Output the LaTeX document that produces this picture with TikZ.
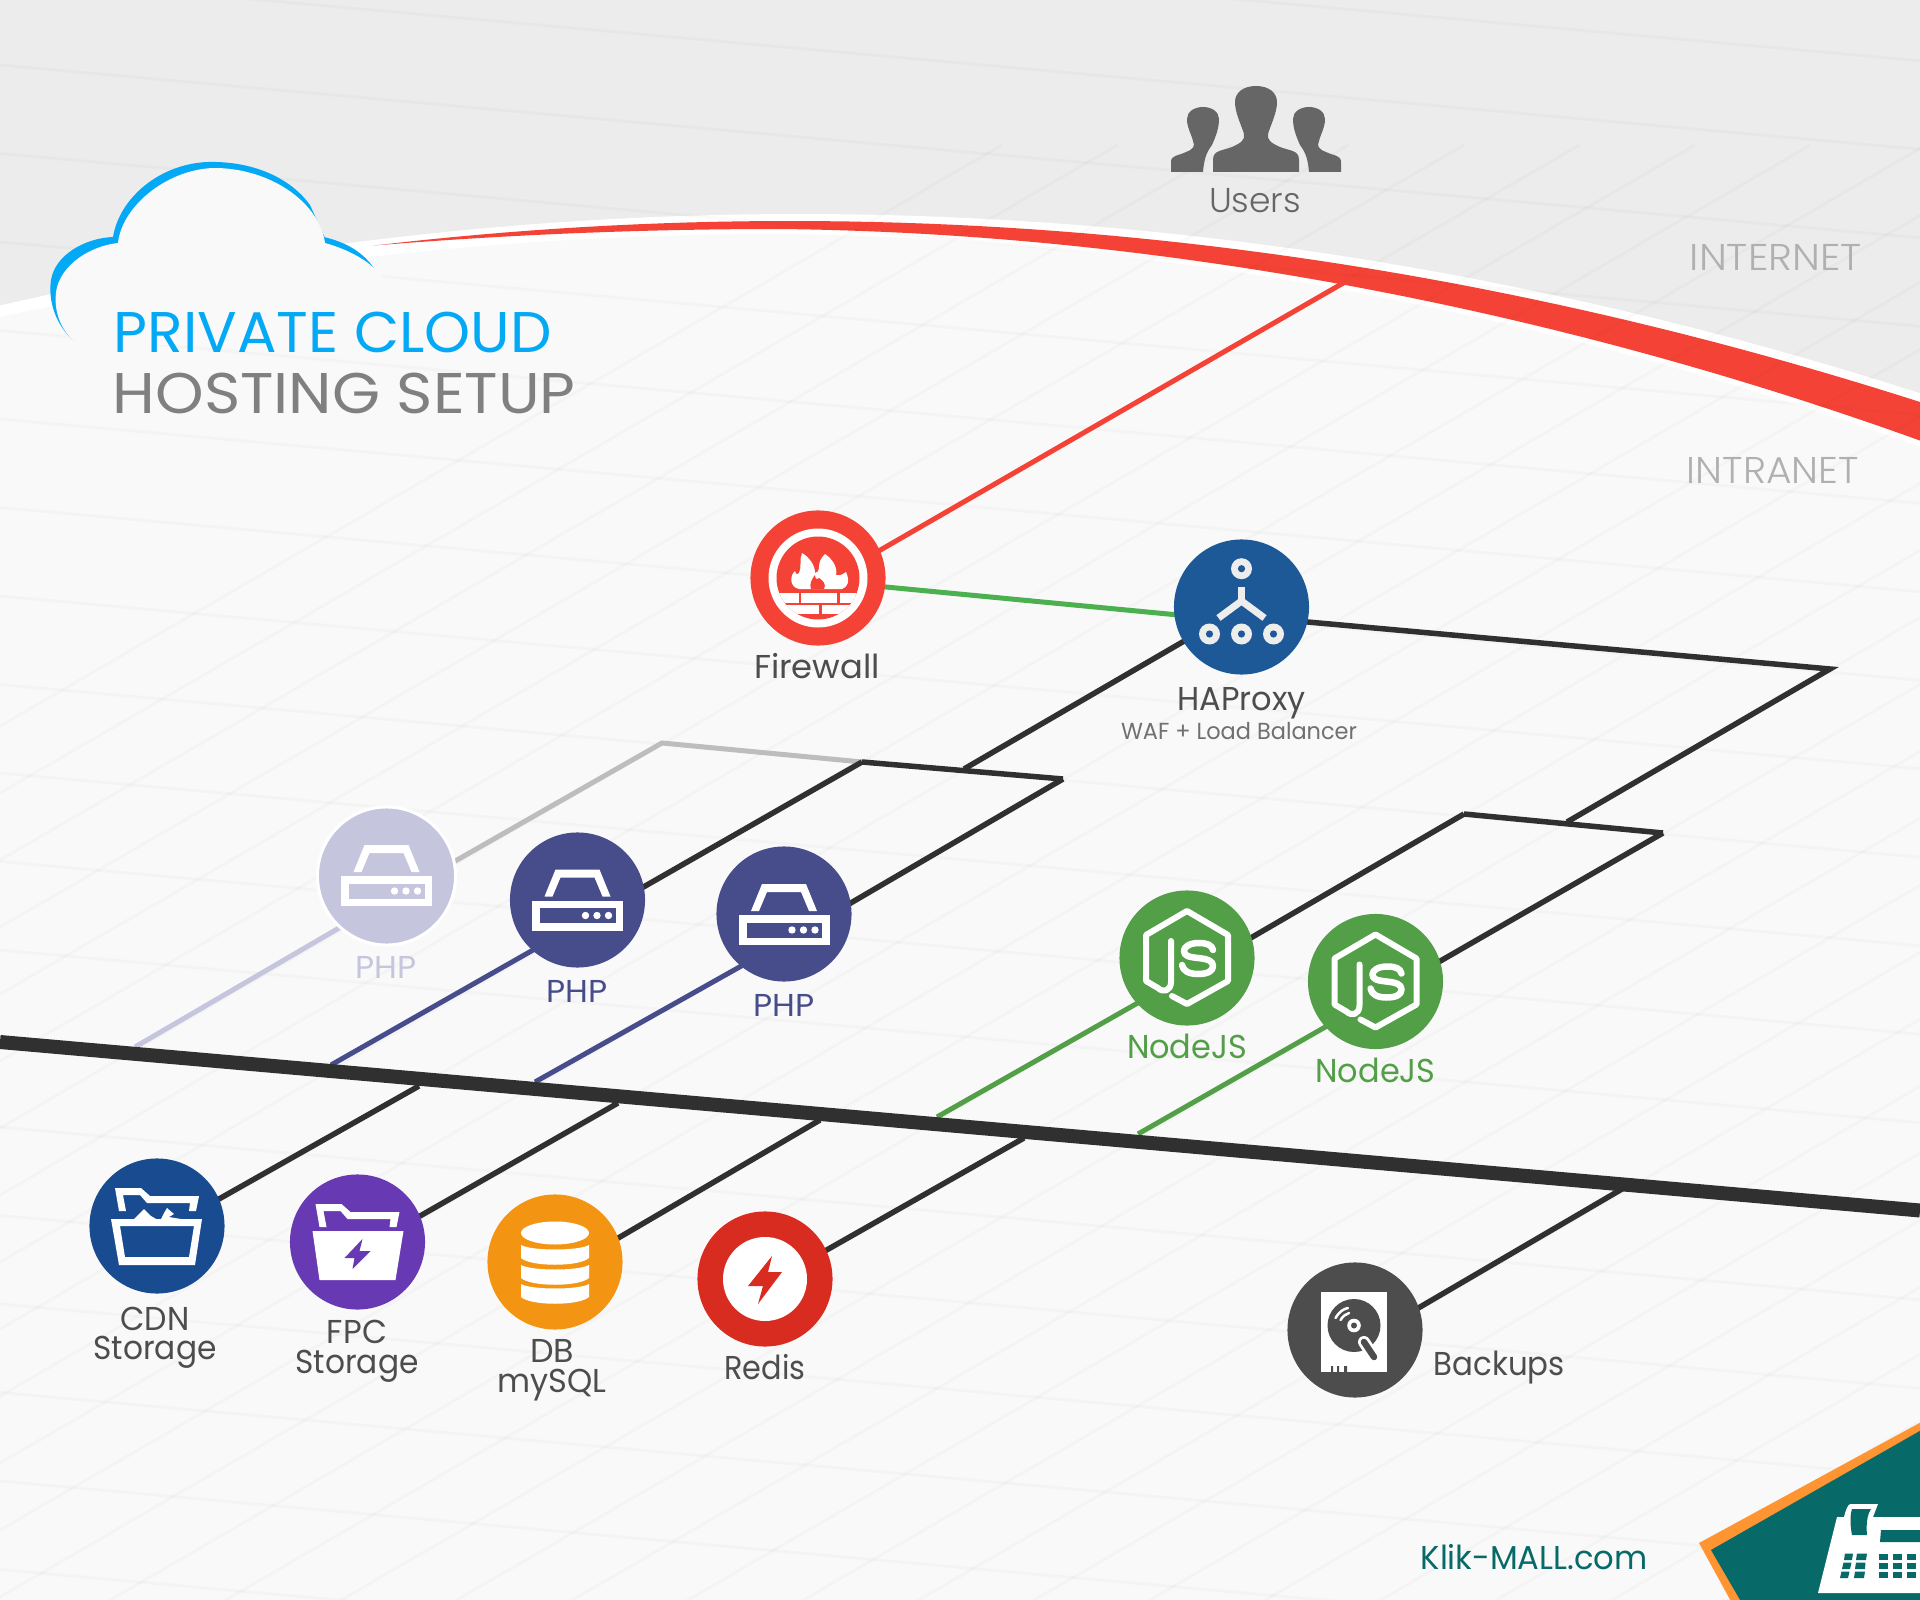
\documentclass[tikz,border=0pt]{standalone}
\usepackage{fontspec}
\usepackage{graphicx}
\setmainfont{Poppins}
\newfontfamily\lite{Poppins Light}
\newlength\pxu \setlength{\pxu}{0.01cm}
\newcommand\fz[1]{\fontsize{#1}{#1}\selectfont}
\newcommand\fw[2]{\resizebox{#1\pxu}{\height}{#2}}
\definecolor{bgtop}{HTML}{ECECEC}
\definecolor{bglow}{HTML}{F9F9F9}
\definecolor{cred}{HTML}{F44336}
\definecolor{cblue}{HTML}{03A9F4}
\definecolor{cgreen}{HTML}{4CAF50}
\definecolor{njs}{HTML}{539F47}
\definecolor{wireblk}{HTML}{303030}
\definecolor{phpc}{HTML}{474C8A}
\definecolor{phpf}{HTML}{C5C6DE}
\definecolor{hap}{HTML}{1E5997}
\definecolor{cdn}{HTML}{194B90}
\definecolor{fpc}{HTML}{673AB3}
\definecolor{dbc}{HTML}{F39513}
\definecolor{rds}{HTML}{D92C20}
\definecolor{bkp}{HTML}{4D4D4D}
\definecolor{teal}{HTML}{076A68}
\definecolor{orng}{HTML}{FF9433}
\definecolor{lbltx}{HTML}{4D4D4D}
\definecolor{usr}{HTML}{666666}
\tikzset{
  hub/.style={circle,inner sep=0pt,minimum size=1.35cm,draw=none},
  lbl/.style={inner sep=0pt,anchor=base},
  lblw/.style={inner sep=0pt,anchor=base west},
  wire/.style={line width=5.5\pxu,wireblk},
  thinwire/.style={line width=5\pxu},
  gridln/.style={line width=3\pxu,black,opacity=0.02},
}
\newcommand\srv[3]{% x y colour
  \begin{scope}[shift={(#1,#2)}]
    \fill[white,even odd rule] (-33,-3) -- (-22,-30) -- (22,-30) -- (33,-3) -- (25,-3) -- (17,-22) -- (-17,-22) -- (-25,-3) -- cycle;
    \fill[white] (-45.5,1) rectangle (45.5,31);
    \fill[#3] (-37.5,8.5) rectangle (38,23.5);
    \foreach \d in {8,19.5,31}{\fill[white] (\d,16) circle[radius=3.7];}
  \end{scope}}
\newcommand\jsi[2]{%
  \begin{scope}[shift={(#1,#2)},white,line width=6\pxu,line join=round,line cap=round]
    \draw (-16,-17) -- (-16,24) .. controls (-16,33) and (-24,35) .. (-29,30) -- (-41,23) -- (-41,-23) -- (0,-47) -- (41,-23) -- (41,23) -- (0,46) -- (-15,38);
    \draw[line width=6.5\pxu] (26,-8) .. controls (25,-13) and (20,-15) .. (12,-15) .. controls (2,-15) and (-3,-11) .. (-3,-7) .. controls (-3,-2) and (2,-1) .. (11,0) .. controls (21,1) and (26,3) .. (26,8) .. controls (26,13) and (21,16) .. (11,16) .. controls (2,16) and (-4,13) .. (-5,7);
  \end{scope}}
\newcommand\foldertab{%
  \fill[white] (-42,-38) -- (-16,-38) -- (-7,-30) -- (42,-30) -- (39,-15) -- (32,-15) -- (33,-23) -- (-10,-23) -- (-17,-31) -- (-34,-31) -- (-31,-15) -- (-38,-15) -- cycle;}
\begin{document}
\begin{tikzpicture}[x=0.01cm,y=-0.01cm]
\useasboundingbox (0,0) rectangle (1920,1600);
\clip (0,0) rectangle (1920,1600);
% backgrounds
\fill[bgtop] (0,0) rectangle (1920,1600);
\fill[white] plot[domain=-5:1925,samples=60] (\x,{214+((\x-800)/100)^2/0.7}) -- (1925,1605) -- (-5,1605) -- cycle;
\fill[bglow] plot[domain=-5:1925,samples=80] (\x,{234+((\x-780)/100)^2/(\x<780 ? 0.733 : 0.6101)+(\x<780 ? 0 : 4*sin(180*((\x-780)/1145)))}) -- (1925,1605) -- (-5,1605) -- cycle;
\fill[cred] plot[domain=373:1925,samples=60] (\x,{221+((\x-790)/100)^2/0.7055}) -- plot[domain=1925:373,samples=80] (\x,{229+((\x-780)/100)^2/(\x<780 ? 1 : 0.6145)+(\x<780 ? 0 : 4*sin(180*((\x-780)/1145)))}) -- cycle;
% grid
\foreach \k in {-2,...,17}{\draw[gridln] (-10,{65+88.5*\k-0.9}) -- (1930,{65+88.5*\k+173.7});}
\foreach \k in {0,...,31}{\draw[gridln] ({1002+115.5*\k},145) -- ({1002+115.5*\k-3000},1885);}
% cloud
\fill[cblue] (75,342) .. controls (55,325) and (48,300) .. (51,280) .. controls (55,255) and (85,238) .. (113,237) .. controls (120,195) and (165,160) .. (216,162) .. controls (258,163) and (292,180) .. (310,205) -- (325,238) -- (324,237) .. controls (348,243) and (362,252) .. (374,268) -- (340,300) -- cycle;
\fill[bglow] (78,345) .. controls (60,330) and (54,312) .. (56,292) .. controls (60,265) and (90,246) .. (118,243) .. controls (122,205) and (170,167) .. (218,168) .. controls (275,170) and (320,205) .. (325,243) .. controls (350,250) and (372,262) .. (385,280) -- (385,345) -- cycle;
% junction coordinates
\coordinate (uplink) at (1345,282);
\coordinate (fwin) at (818,586);
\coordinate (fwg) at (818,580.5);
\coordinate (hag) at (1241,621);
\coordinate (hpl) at (1241,608);
\coordinate (hpr) at (1241,616);
\coordinate (jR) at (1830,669);
\coordinate (jRm) at (1567,822);
\coordinate (jN1) at (1464,814);
\coordinate (jN2) at (1663,833);
\coordinate (jPm) at (964,769);
\coordinate (jP1) at (662,743);
\coordinate (jP2) at (862,762);
\coordinate (jP3) at (1063,779);
\coordinate (cP1) at (387,900);
\coordinate (cP2) at (577,925);
\coordinate (cP3) at (784,942);
\coordinate (cN1) at (1187,975);
\coordinate (cN2) at (1376,998);
\coordinate (bP1) at (135,1047);
\coordinate (bP2) at (331,1065);
\coordinate (bP3) at (535,1082);
\coordinate (bN1) at (937,1117);
\coordinate (bN2) at (1138,1134);
\coordinate (bC) at (419,1086);
\coordinate (bF) at (618,1103);
\coordinate (bD) at (820,1120);
\coordinate (bR) at (1024,1138);
\coordinate (bB) at (1622,1189);
\coordinate (cC) at (157,1234);
\coordinate (cF) at (357,1252);
\coordinate (cD) at (555,1275);
\coordinate (cR) at (765,1285);
\coordinate (cB) at (1355,1345);
\coordinate (busL) at (0,1042);
\coordinate (busR) at (1920,1210.5);
% connectors
\draw[thinwire,cred] (fwin) -- (uplink);
\draw[thinwire,cgreen] (fwg) -- (hag);
\draw[wire] (hpr) -- (jR) -- (jRm);
\draw[wire] (jN1) -- (jN2);
\draw[wire] (hpl) -- (jPm);
\draw[wire] (cN1) -- (jN1);
\draw[wire] (cN2) -- (jN2);
\draw[line width=5\pxu,color={rgb,255:red,189;green,189;blue,189}] (cP1) -- (jP1) -- (jP2);
\draw[wire] (jP2) -- (jP3);
\draw[wire] (cP2) -- (jP2);
\draw[wire] (cP3) -- (jP3);
\draw[thinwire,phpf] (cP1) -- (bP1);
\draw[thinwire,phpc] (cP2) -- (bP2);
\draw[thinwire,phpc] (cP3) -- (bP3);
\draw[thinwire,njs] (cN1) -- (bN1);
\draw[thinwire,njs] (cN2) -- (bN2);
\draw[wire] (cC) -- (bC);
\draw[wire] (cF) -- (bF);
\draw[wire] (cD) -- (bD);
\draw[wire] (cR) -- (bR);
\draw[wire] (cB) -- (bB);
\draw[line width=14\pxu,wireblk] (busL) -- (busR);
% hub nodes
\node[hub,fill=cred] (fw) at (818,578) {};
\node[hub,fill=hap] (ha) at (1241.5,607) {};
\node[hub,fill=phpf,draw=white,line width=3\pxu,minimum size=1.38cm] (php1) at (386.5,876) {};
\node[hub,fill=phpc] (php2) at (577.5,900) {};
\node[hub,fill=phpc] (php3) at (784,914) {};
\node[hub,fill=njs] (nj1) at (1187,958) {};
\node[hub,fill=njs] (nj2) at (1375.5,981.5) {};
\node[hub,fill=cdn] (cdnn) at (157,1226) {};
\node[hub,fill=fpc] (fpcn) at (357.5,1242) {};
\node[hub,fill=dbc] (dbn) at (555,1262) {};
\node[hub,fill=rds] (rdn) at (765,1279) {};
\node[hub,fill=bkp] (bkn) at (1355,1330) {};
% firewall icon
\begin{scope}[shift={(818,578)}]
  \fill[white] (0,0) circle[radius=49.5];
  \fill[cred] (0,0) circle[radius=41.5];
  \fill[white] (-19,11) .. controls (-29,9) and (-28,-3) .. (-23,-7) .. controls (-22,-3) and (-20,-3) .. (-19,-5) .. controls (-16,-10) and (-19,-18) .. (-16,-25) .. controls (-9,-21) and (-3,-13) .. (-3,-5) .. controls (-1,-5) and (1,-7) .. (1,-11) .. controls (1,-16) and (3,-20) .. (7,-24) .. controls (13,-20) and (20,-12) .. (18,-3) .. controls (21,-2) and (24,-3) .. (28,-6) .. controls (32,3) and (30,9) .. (24,11) -- cycle;
  \fill[cred] (-7,11) .. controls (-9,6) and (-6,1) .. (-3,-3) .. controls (-3,1) and (-1,2) .. (1,0) .. controls (4,2) and (9,6) .. (6,11) -- cycle;
  \begin{scope}
    \clip (0,0) circle[radius=41.5];
    \fill[white] (-45,15) rectangle (45,36);
    \fill[cred] (-45,24.5) rectangle (45,27);
    \fill[cred] (-19.5,15) rectangle (-17,25);
    \fill[cred] (19,15) rectangle (21.5,25);
    \fill[cred] (1,26) rectangle (3.5,36);
  \end{scope}
\end{scope}
% haproxy icon
\begin{scope}[shift={(1241.5,607)}]
  \draw[color=white!93!black,line width=7\pxu] (0,-20) -- (0,-5);
  \draw[color=white!93!black,line width=7\pxu] (-23,11) -- (0,-6) -- (23,11);
  \foreach \a/\b in {0/-38.3,-32/27,0/27,32/27}{
    \fill[white!93!black] (\a,\b) circle[radius=10.5];
    \fill[hap] (\a,\b) circle[radius=3.6];}
\end{scope}
\srv{386.5}{875}{phpf}
\srv{577.5}{899.5}{phpc}
\srv{784}{914}{phpc}
\jsi{1187}{958}
\jsi{1375.5}{981.5}
% CDN icon
\begin{scope}[shift={(157,1226)}]
  \foldertab
  \fill[white,even odd rule] (-46,-7) -- (45,-7) -- (38,39) -- (-38,39) -- cycle (-37,0) -- (37,0) -- (32,31) -- (-32,31) -- cycle;
  \fill[white] (-23,-7) -- (-13,-17) -- (-6,-10) -- (1,-6) -- (4,-7) -- (7,-13) -- (10,-18) -- (17,-12) -- (12,-9) -- (24,-7) -- cycle;
\end{scope}
% FPC icon
\begin{scope}[shift={(357.5,1242)}]
  \foldertab
  \fill[white] (-45,-11) -- (46,-11) -- (38,38) -- (-38,38) -- cycle;
  \fill[fpc] (5,-3) -- (-13,16) -- (-3,16) -- (-5,27) -- (13,9) -- (2,9) -- cycle;
\end{scope}
% DB icon
\begin{scope}[shift={(555,1262)}]
  \fill[white] (0,-29) ellipse[x radius=34,y radius=11.5];
  \foreach \t in {-17,3,22}{
    \fill[white] (-34,\t) .. controls (-24,{\t+6}) and (24,{\t+6}) .. (34,\t) -- (34,{\t+13}) .. controls (24,{\t+22}) and (-24,{\t+22}) .. (-34,{\t+13}) -- cycle;}
\end{scope}
% redis icon
\begin{scope}[shift={(765,1279)}]
  \fill[white] (0,0) circle[radius=42];
  \fill[rds] (7,-23) -- (-17,7) -- (-2,7) -- (-7,25) -- (17,-7) -- (3,-7) -- cycle;
\end{scope}
% backups icon
\begin{scope}[shift={(1355,1330)}]
  \fill[white] (-34,-38) rectangle (32,42);
  \fill[bkp] (-1,-4.5) circle[radius=26.5];
  \fill[white] (-1,-4.5) circle[radius=6.8];
  \fill[bkp] (-1,-4.5) circle[radius=3];
  \draw[white,line width=2.5\pxu,line cap=round] (-19.5,-12) .. controls (-16,-18) and (-12,-21) .. (-7,-22);
  \draw[white,line width=2.5\pxu,line cap=round] (-14.5,-10) .. controls (-12,-14) and (-9,-16) .. (-6,-17);
  \draw[white,line width=12\pxu,line cap=round] (9,12) -- (19,27);
  \draw[bkp,line width=6.5\pxu,line cap=round] (9,12) -- (19,27);
  \fill[bkp] (-24,36) rectangle (-22,42) (-18,36) rectangle (-16,42) (-11,36) rectangle (-8,42);
\end{scope}
% users
\fill[usr] (1213,172) -- (1213,160) .. controls (1213,150) and (1222,151) .. (1232,147) .. controls (1241,143) and (1245,140) .. (1244,134) .. controls (1241,124) and (1235,113) .. (1235,102) .. controls (1235,92) and (1244,86) .. (1256,86) .. controls (1268,86) and (1277,92) .. (1277,102) .. controls (1277,113) and (1271,124) .. (1268,134) .. controls (1267,140) and (1271,143) .. (1280,147) .. controls (1290,151) and (1299,150) .. (1299,160) -- (1299,172) -- cycle;
\foreach \m/\o in {1/0,-1/2512}{
\fill[usr] ({\o+\m*1171},172) -- ({\o+\m*1171},162) .. controls ({\o+\m*1171},155) and ({\o+\m*1178},156) .. ({\o+\m*1186},152) .. controls ({\o+\m*1194},149) and ({\o+\m*1195},146) .. ({\o+\m*1193},141) .. controls ({\o+\m*1191},133) and ({\o+\m*1187},128) .. ({\o+\m*1187},119) .. controls ({\o+\m*1187},112) and ({\o+\m*1194},107) .. ({\o+\m*1203},107) .. controls ({\o+\m*1212},107) and ({\o+\m*1219},112) .. ({\o+\m*1219},119) .. controls ({\o+\m*1219},128) and ({\o+\m*1216},136) .. ({\o+\m*1212},145) .. controls ({\o+\m*1206},153) and ({\o+\m*1204},160) .. ({\o+\m*1203},172) -- cycle;}
% corner
\fill[orng] (1699,1543) -- (1925,1420) -- (1925,1605) -- (1733,1605) -- cycle;
\fill[teal] (1711,1550) -- (1925,1428) -- (1925,1605) -- (1743,1605) -- cycle;
% fax
\fill[white] (1818,1593) -- (1837,1517) -- (1844,1517) .. controls (1846,1510) and (1847,1506) .. (1850,1504) -- (1878,1504) -- (1873,1517) -- (1925,1517) -- (1925,1593) -- cycle;
\fill[teal] (1852,1509) -- (1871,1509) .. controls (1867,1515) and (1866,1525) .. (1867,1535) -- (1852,1535) .. controls (1850,1525) and (1850,1515) .. (1852,1509) -- cycle;
\fill[teal] (1881,1530) -- (1925,1530) -- (1925,1542) -- (1880,1542) -- cycle;
\fill[teal] (1845,1553.5) -- (1853,1553.5) -- (1852,1560) -- (1844,1560) -- cycle
 (1857,1553.5) -- (1867,1553.5) -- (1866,1560) -- (1856,1560) -- cycle
 (1843.5,1562.5) -- (1851.5,1562.5) -- (1850,1569) -- (1842,1569) -- cycle
 (1856,1562.5) -- (1865.5,1562.5) -- (1865,1569) -- (1855,1569) -- cycle
 (1841.5,1571.5) -- (1849.5,1571.5) -- (1848,1578) -- (1840,1578) -- cycle
 (1855,1571.5) -- (1865,1571.5) -- (1864,1578) -- (1854,1578) -- cycle;
\foreach \c in {1879,1893,1907}{\foreach \r in {1553.5,1562.5,1571.5}{\fill[teal] (\c,\r) rectangle ({\c+9},{\r+6.5});}}
% labels
\node[lblw,text=cblue] (t1) at (113,353) {\fz{16.3}\fw{438}{PRIVATE CLOUD}};
\node[lblw,text={rgb,255:red,128;green,128;blue,128}] (t2) at (112,413) {\fz{16.3}\fw{463}{HOSTING SETUP}};
\node[lbl,text=usr] (lu) at (1255,213) {\lite\fz{9.8}\fw{92}{Users}};
\node[lblw,text={rgb,255:red,176;green,176;blue,176}] (li) at (1689,271) {\lite\fz{10.6}\fw{172}{INTERNET}};
\node[lblw,text={rgb,255:red,176;green,176;blue,176}] (ln) at (1686,484) {\lite\fz{10.6}\fw{172}{INTRANET}};
\node[lbl,text=lbltx] (lf) at (817,678) {\fz{9.4}\fw{126}{Firewall}};
\node[lbl,text=lbltx] (lh) at (1241.5,710) {\fz{9.4}\fw{128}{HAProxy}};
\node[lbl,text={rgb,255:red,112;green,112;blue,112}] (lw) at (1239,739) {\fz{6.6}\fw{236}{WAF + Load Balancer}};
\node[lbl,text=phpf] (lp1) at (386,978) {\fz{9}\fw{61}{PHP}};
\node[lbl,text=phpc] (lp2) at (577,1002) {\fz{9}\fw{61}{PHP}};
\node[lbl,text=phpc] (lp3) at (784,1016) {\fz{9}\fw{61}{PHP}};
\node[lbl,text=njs] (ln1) at (1187,1058) {\fz{9.4}\fw{120}{NodeJS}};
\node[lbl,text=njs] (ln2) at (1375.5,1082) {\fz{9.4}\fw{120}{NodeJS}};
\node[lbl,text=lbltx] (lc1) at (155,1330) {\fz{9.4}\fw{69}{CDN}};
\node[lbl,text=lbltx] (lc2) at (155,1359) {\fz{9.4}\fw{123}{Storage}};
\node[lbl,text=lbltx] (lf1) at (357,1343) {\fz{9.4}\fw{60}{FPC}};
\node[lbl,text=lbltx] (lf2) at (357,1373) {\fz{9.4}\fw{123}{Storage}};
\node[lbl,text=lbltx] (ld1) at (552,1362) {\fz{9.4}\fw{44}{DB}};
\node[lbl,text=lbltx] (ld2) at (552,1392) {\fz{9.4}\fw{109}{mySQL}};
\node[lbl,text=lbltx] (lr) at (765,1379) {\fz{9.4}\fw{81}{Redis}};
\node[lblw,text=lbltx] (lb) at (1433,1375) {\fz{9.4}\fw{131}{Backups}};
\node[lblw,text=teal] (lk) at (1420,1569) {\fz{9.4}\fw{227}{Klik-MALL.com}};
\end{tikzpicture}
\end{document}
